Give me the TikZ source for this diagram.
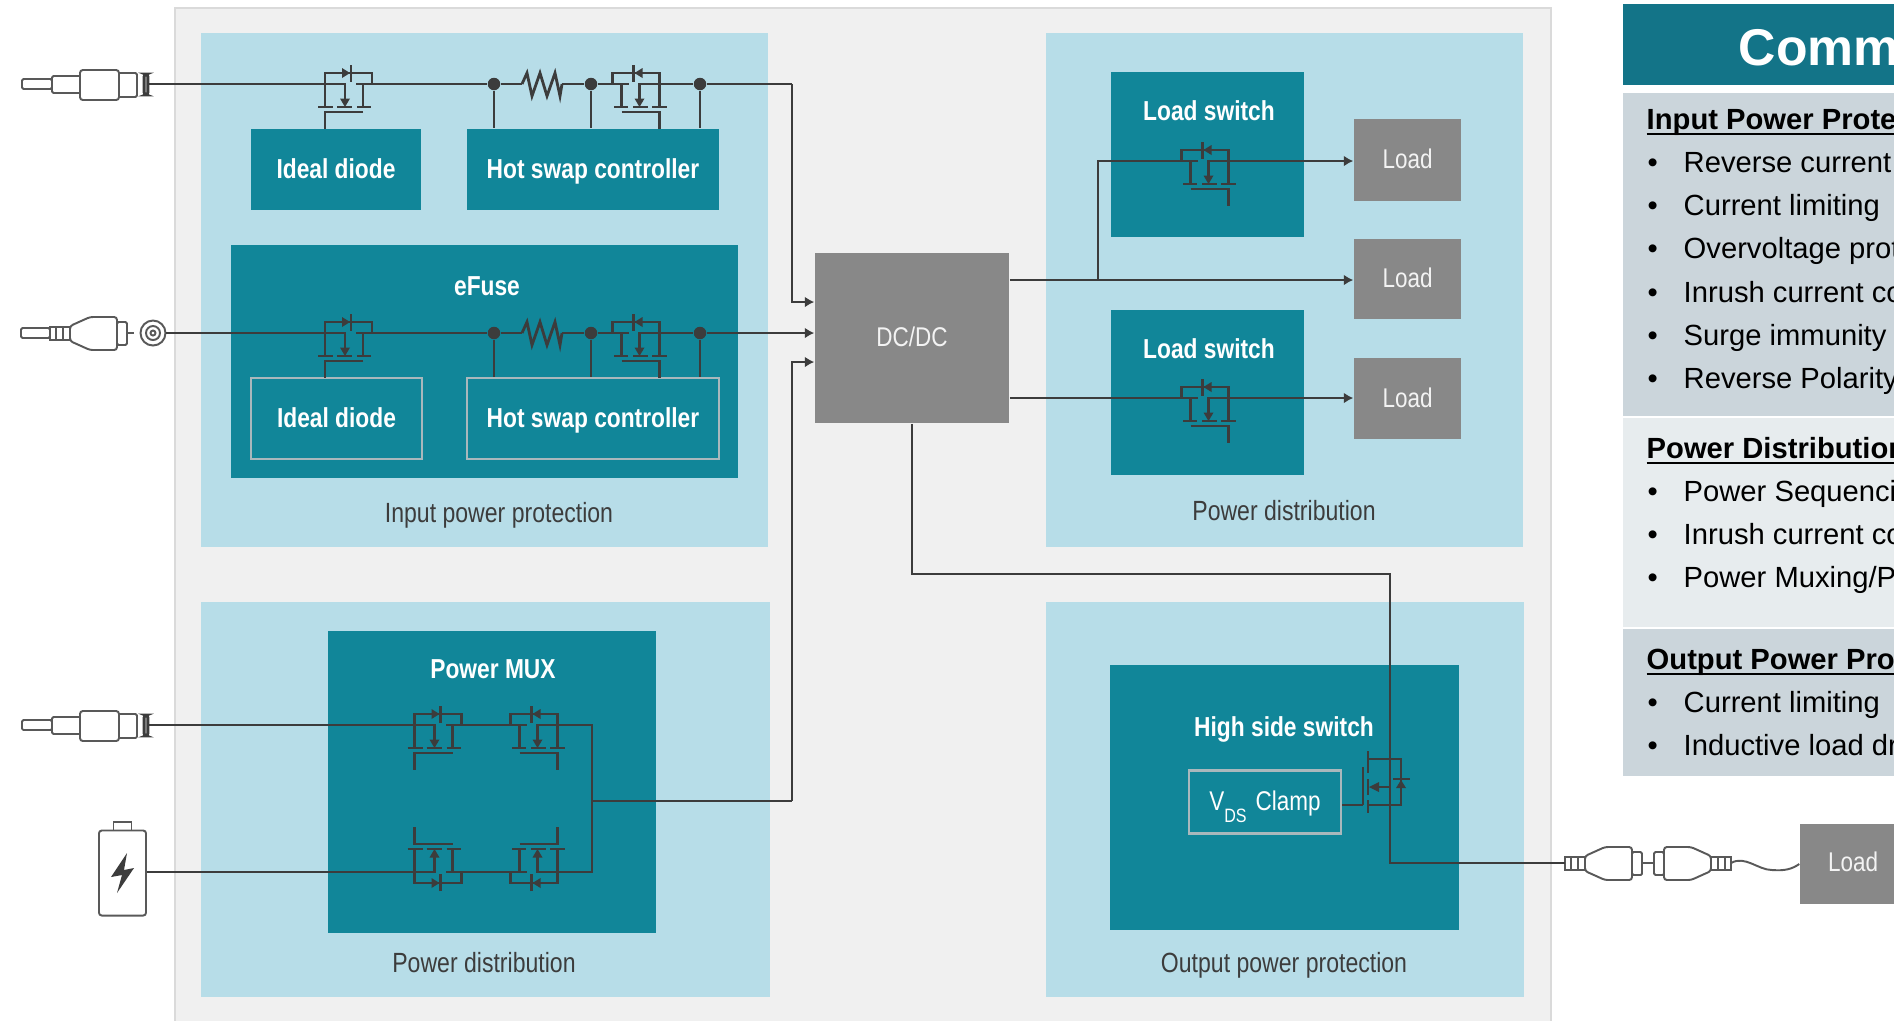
\documentclass[tikz,border=0pt]{standalone}
\usepackage{fontspec}
\usepackage{xcolor}
\usetikzlibrary{arrows.meta}
\setmainfont{Liberation Sans}
\newfontfamily\narrowfont[FakeStretch=.83]{Liberation Sans}
\definecolor{panelgray}{HTML}{F0F0F0}
\definecolor{panelline}{HTML}{DADADA}
\definecolor{lightblue}{HTML}{B7DDE8}
\definecolor{tealbox}{HTML}{118699}
\definecolor{tealedge}{HTML}{A9B8BC}
\definecolor{graybox}{HTML}{888888}
\definecolor{wirecol}{HTML}{3C3C3C}
\definecolor{headteal}{HTML}{137488}
\definecolor{rowdark}{HTML}{CBD5DB}
\definecolor{rowlight}{HTML}{E7ECEE}
\newcommand{\headul}[1]{\setbox0\hbox{#1}\rlap{\rule[-1.8pt]{\wd0}{.7pt}}#1}
\tikzset{
    wire/.style={draw=wirecol,line width=.8pt},
    wirearrow/.style={wire,-{Latex[length=2.7pt,width=3.1pt]}},
    plugline/.style={draw=wirecol!85,line width=.55pt},
    lightpanel/.style={fill=lightblue,draw=none,inner sep=0pt},
    teal/.style={fill=tealbox,draw=none,inner sep=0pt,text=white,text height=6.1pt,text depth=1.2pt,font=\narrowfont\fontsize{7.8}{9}\selectfont\bfseries},
    tealframe/.style={teal,draw=tealedge,line width=.6pt},
    load/.style={fill=graybox,draw=none,inner sep=0pt,text=white!90!graybox,text height=6.1pt,text depth=1.2pt,font=\narrowfont\fontsize{7.7}{9}\selectfont},
    whitelabel/.style={inner sep=0pt,text=white,text height=6.1pt,text depth=1.2pt,font=\narrowfont\fontsize{7.8}{9}\selectfont\bfseries},
    darklabel/.style={inner sep=0pt,text=wirecol,text height=6.1pt,text depth=1.2pt,font=\narrowfont\fontsize{7.9}{9}\selectfont},
    dot/.style={circle,fill=wirecol,draw=none,inner sep=0pt,minimum size=.125cm},
    rowhead/.style={anchor=base west,inner sep=0pt,font=\fontsize{8.3}{10}\selectfont\bfseries},
    rowitem/.style={anchor=base west,inner sep=0pt,font=\fontsize{8.3}{10}\selectfont},
    fet/.pic={
        \coordinate (-a) at (-23.5,0);
        \coordinate (-b) at (23.5,0);
        \draw[wire] (-23.5,23) -- (-23.5,-11) -- (23.5,-11) -- (23.5,0) -- (7.5,0);
        \draw[wire] (-23.5,0) -- (-3.5,0) -- (-3.5,16);
        \draw[wire] (14.5,0) -- (14.5,23);
        \draw[wire] (-30.5,23) -- (-15.5,23);
        \draw[wire] (-11.5,23) -- (3.5,23);
        \draw[wire] (8.5,23) -- (22.5,23);
        \draw[wire] (14.5,28) -- (-23.5,28) -- (-23.5,45);
        \fill[wirecol] (-8.5,14.5) -- (1.5,14.5) -- (-3.5,23) -- cycle;
        \fill[wirecol] (-6.5,-16) -- (1.5,-11) -- (-6.5,-6) -- cycle;
        \draw[wire] (2.5,-19) -- (2.5,-2);
    },
    resistor/.pic={
        \coordinate (-a) at (0,0);
        \coordinate (-b) at (40,0);
        \draw[wire] (0,0) -- (5,-11) -- (10,12) -- (18,-11) -- (25,12) -- (33,-11) -- (38,12) -- (40,0);
    },
    plugjack/.pic={
        \coordinate (-end) at (149,0);
        \draw[plugline,fill=white,rounded corners=.4pt] (22,-5) rectangle (52,5);
        \draw[plugline,fill=white,rounded corners=.4pt] (52,-8) rectangle (82,9);
        \draw[plugline,fill=white,rounded corners=.4pt] (117,-11) rectangle (137,13);
        \draw[plugline,fill=white,rounded corners=.8pt] (80,-14) rectangle (119,16);
        \draw[draw=wirecol,line width=.8pt,fill=wirecol!50,rounded corners=.8pt] (144,-10) rectangle (148,11);
    },
    plugbarrel/.pic={
        \coordinate (-end) at (84,0);
        \draw[plugline,fill=white] (0,-6) rectangle (20,7);
        \draw[plugline] (6,-6) -- (6,7) (13,-7) -- (13,8);
        \draw[plugline,fill=white,rounded corners=.4pt] (67,-11) rectangle (77,12);
        \draw[plugline,fill=white,rounded corners=.8pt] (20,-7) -- (40,-16) -- (67,-16) -- (67,17) -- (40,17) -- (20,8) -- cycle;
        \draw[plugline] (77,0) -- (84,0);
    },
}
\begin{document}
\begin{tikzpicture}[x=.01cm,y=-.01cm]
    \path[use as bounding box] (0,0) rectangle (1894,1020);
    \clip (0,0) rectangle (1894,1020);
    % panels
    \draw[fill=panelgray,draw=panelline,line width=.4pt] (175,8) rectangle (1551,1040);
    \node[lightpanel,minimum width=5.67cm,minimum height=5.14cm] (inpanel) at (484.5,290) {};
    \node[lightpanel,minimum width=4.77cm,minimum height=5.14cm] (distpanel) at (1284.5,290) {};
    \node[lightpanel,minimum width=5.69cm,minimum height=3.95cm] (muxpanel) at (485.5,799.5) {};
    \node[lightpanel,minimum width=4.78cm,minimum height=3.95cm] (outpanel) at (1285,799.5) {};
    % boxes
    \node[teal,minimum width=1.70cm,minimum height=.81cm] (idealA) at (336,169.5) {Ideal diode};
    \node[teal,minimum width=2.52cm,minimum height=.81cm] (hotA) at (593,169.5) {Hot swap controller};
    \node[teal,minimum width=5.07cm,minimum height=2.33cm] (efuse) at (484.5,361.5) {};
    \node[tealframe,minimum width=1.71cm,minimum height=.81cm] (idealB) at (336.5,418.5) {Ideal diode};
    \node[tealframe,minimum width=2.52cm,minimum height=.81cm] (hotB) at (593,418.5) {Hot swap controller};
    \node[teal,minimum width=1.93cm,minimum height=1.65cm] (switchA) at (1207.5,154.5) {};
    \node[teal,minimum width=1.93cm,minimum height=1.65cm] (switchB) at (1207.5,392.5) {};
    \node[teal,minimum width=3.28cm,minimum height=3.01cm] (mux) at (492,782) {};
    \node[teal,minimum width=3.49cm,minimum height=2.64cm] (hss) at (1284.5,797.5) {};
    \node[tealframe,font=\narrowfont\fontsize{7.7}{9}\selectfont,minimum width=1.52cm,minimum height=.63cm] (clamp) at (1265,802) {V\raisebox{-3.5pt}{\fontsize{5.5}{7}\selectfont DS}\,\,Clamp};
    \node[load,minimum width=1.94cm,minimum height=1.70cm] (dcdc) at (912,338) {DC/DC};
    \node[load,minimum width=1.07cm,minimum height=.82cm] (loadA) at (1407.5,160) {Load};
    \node[load,minimum width=1.07cm,minimum height=.80cm] (loadB) at (1407.5,279) {Load};
    \node[load,minimum width=1.07cm,minimum height=.81cm] (loadC) at (1407.5,398.5) {Load};
    \node[fill=graybox,inner sep=0pt,minimum width=1.20cm,minimum height=.80cm] (loadD) at (1860,864) {};
    \node[inner sep=0pt,text=white!90!graybox,text height=6.1pt,text depth=1.2pt,font=\narrowfont\fontsize{7.7}{9}\selectfont] (loadDtext) at (1853,863) {Load};
    % labels
    \node[whitelabel] (efuselabel) at (487,287) {eFuse};
    \node[whitelabel] (switchlabelA) at (1209,112) {Load switch};
    \node[whitelabel] (switchlabelB) at (1209,350) {Load switch};
    \node[whitelabel] (muxlabel) at (493,670) {Power MUX};
    \node[whitelabel] (hsslabel) at (1284,728) {High side switch};
    \node[darklabel] (inlabel) at (499,514) {Input power protection};
    \node[darklabel] (distlabel) at (1284,512) {Power distribution};
    \node[darklabel] (muxpanellabel) at (484,964) {Power distribution};
    \node[darklabel] (outlabel) at (1284,964) {Output power protection};
    % plugs
    \pic (plugA) at (0,84) {plugjack};
    \pic (plugC) at (0,725) {plugjack};
    \draw[plugline,fill=white,rounded corners=.4pt] (21,328) rectangle (50,338);
    \pic (plugB) at (50,333) {plugbarrel};
    \node[circle,draw=wirecol!85,line width=.55pt,fill=white,inner sep=0pt,minimum size=.25cm] (target) at (153,333) {};
    \node[circle,draw=wirecol!85,line width=.55pt,fill=white,inner sep=0pt,minimum size=.14cm] (targetmid) at (153,333) {};
    \node[circle,draw=wirecol!85,line width=.55pt,fill=white,inner sep=0pt,minimum size=.05cm] (targetin) at (153,333) {};
    \pic (plugD) at (1565,863) {plugbarrel};
    \pic[xscale=-1] (plugE) at (1731,863) {plugbarrel};
    \coordinate (waveA) at (1731,863);
    \draw[plugline] (waveA) .. controls (1745,855) and (1758,870) .. (1772,870) .. controls (1785,871) and (1792,869) .. (loadD.west);
    % battery
    \node[draw=wirecol!85,line width=.55pt,fill=white,inner sep=0pt,minimum width=.18cm,minimum height=.1cm] (battcap) at (122.5,827) {};
    \node[draw=wirecol!85,line width=.55pt,fill=white,rounded corners=.8pt,inner sep=0pt,minimum width=.47cm,minimum height=.85cm] (batt) at (122.5,873) {};
    \fill[wirecol] (127,853) -- (111,877) -- (122,875) -- (117,893) -- (134,868) -- (124,870) -- cycle;
    % mosfets
    \pic (fetA) at (348.5,84) {fet};
    \pic[xscale=-1] (fetB) at (636,84) {fet};
    \pic (fetC) at (348.5,333) {fet};
    \pic[xscale=-1] (fetD) at (636,333) {fet};
    \pic[xscale=-1] (fetE) at (1205,161) {fet};
    \pic[xscale=-1] (fetF) at (1205,398) {fet};
    \pic (fetG) at (438,725) {fet};
    \pic[xscale=-1] (fetH) at (534,725) {fet};
    \pic[yscale=-1] (fetI) at (438,872) {fet};
    \pic[xscale=-1,yscale=-1] (fetJ) at (534,872) {fet};
    \pic (resA) at (522,84) {resistor};
    \pic (resB) at (522,333) {resistor};
    % first row
    \node[dot] (dotA) at (494,84) {};
    \node[dot] (dotB) at (591,84) {};
    \node[dot] (dotC) at (700,84) {};
    \coordinate (busA) at (792,84);
    \coordinate (inA) at (dcdc.west |- 0,302);
    \draw[wire] (plugA-end) -- (fetA-a);
    \draw[wire] (fetA-b) -- (dotA) -- (resA-a);
    \draw[wire] (resA-b) -- (dotB) -- (fetB-b);
    \draw[wire] (fetB-a) -- (dotC) -- (busA);
    \draw[wirearrow] (busA) |- (inA);
    \draw[wire] (dotA) -- (dotA |- hotA.north);
    \draw[wire] (dotB) -- (dotB |- hotA.north);
    \draw[wire] (dotC) -- (dotC |- hotA.north);
    % second row
    \node[dot] (dotD) at (494,333) {};
    \node[dot] (dotE) at (591,333) {};
    \node[dot] (dotF) at (700,333) {};
    \coordinate (inB) at (dcdc.west |- 0,333);
    \draw[wire] (target.east) -- (fetC-a);
    \draw[wire] (fetC-b) -- (dotD) -- (resB-a);
    \draw[wire] (resB-b) -- (dotE) -- (fetD-b);
    \draw[wire] (fetD-a) -- (dotF);
    \draw[wirearrow] (dotF) -- (inB);
    \draw[wire] (dotD) -- (dotD |- hotB.north);
    \draw[wire] (dotE) -- (dotE |- hotB.north);
    \draw[wire] (dotF) -- (dotF |- hotB.north);
    % mux
    \coordinate (muxtop) at (592,725);
    \coordinate (muxbot) at (592,872);
    \coordinate (muxout) at (592,801);
    \coordinate (busB) at (792,801);
    \coordinate (inC) at (dcdc.west |- 0,362);
    \draw[wire] (plugC-end) -- (fetG-a);
    \draw[wire] (fetG-b) -- (fetH-b);
    \draw[wire] (fetH-a) -- (muxtop) -- (muxbot) -- (fetJ-a);
    \draw[wire] (batt.east |- fetI-a) -- (fetI-a);
    \draw[wire] (fetI-b) -- (fetJ-b);
    \draw[wire] (muxout) -- (busB);
    \draw[wirearrow] (busB) |- (inC);
    % loads
    \coordinate (outA) at (1098,280);
    \coordinate (outB) at (1098,161);
    \coordinate (outC) at (dcdc.east |- 0,280);
    \coordinate (outD) at (dcdc.east |- 0,398);
    \draw[wirearrow] (outC) -- (outC -| loadB.west);
    \draw[wire] (outA) -- (outB) -- (fetE-b);
    \draw[wirearrow] (fetE-a) -- (outB -| loadA.west);
    \draw[wire] (outD) -- (fetF-b);
    \draw[wirearrow] (fetF-a) -- (outD -| loadC.west);
    % high side switch
    \coordinate (hsA) at (1390,574);
    \coordinate (hsB) at (1390,759);
    \coordinate (hsC) at (1390,805);
    \coordinate (hsD) at (1565,863);
    \coordinate (hsE) at (1368,759);
    \coordinate (hsF) at (1368,805);
    \coordinate (hsG) at (1401,759);
    \coordinate (hsH) at (1401,805);
    \coordinate (hsI) at (1363,805);
    \draw[wire] (dcdc.south) |- (hsA) -- (hsA |- hsD) -- (hsD);
    \draw[wire] (hsE) -- (hsG) -- (hsH) -- (hsF);
    \draw[wire] (clamp.east |- hsI) -- (hsI);
    \draw[wire] (1363,767) -- (hsI);
    \draw[wire] (1368,751) -- (1368,773) (1368,779) -- (1368,795) (1368,800) -- (1368,813);
    \draw[wire] (hsC |- 0,787) -- (1376,787);
    \fill[wirecol] (1369,787) -- (1379,782) -- (1379,792) -- cycle;
    \fill[wirecol] (1401,780) -- (1406,788) -- (1396,788) -- cycle;
    \draw[wire] (1393,779) -- (1410,779);
    % table
    \node[fill=headteal,inner sep=0pt,minimum width=2.77cm,minimum height=.81cm] (tabhead) at (1761.5,44.5) {};
    \node[fill=rowdark,inner sep=0pt,minimum width=2.77cm,minimum height=3.23cm] (rowA) at (1761.5,254.5) {};
    \node[fill=rowlight,inner sep=0pt,minimum width=2.77cm,minimum height=2.09cm] (rowB) at (1761.5,522.5) {};
    \node[fill=rowdark,inner sep=0pt,minimum width=2.77cm,minimum height=1.47cm] (rowC) at (1761.5,702.5) {};
    \node[anchor=base west,inner sep=0pt,text=white,font=\fontsize{14.7}{16}\selectfont\bfseries] (tabtitle) at (1738,65) {Comm};
    \node[rowhead] (headA) at (1646,129) {\headul{Input Power Prote}};
    \node[rowhead] (headB) at (1646,458) {\headul{Power Distribution}};
    \node[rowhead] (headC) at (1646,669) {\headul{Output Power Pro}};
    \foreach \ty/\txt [count=\i] in {172/Reverse current,215/Current limiting,258/{Overvoltage prot},302/{Inrush current co},345/Surge immunity,388/Reverse Polarity,501/{Power Sequenci},544/{Inrush current co},587/{Power Muxing/P},712/Current limiting,755/{Inductive load dr}}
    {
        \node[rowitem] (bullet\i) at (1647,\ty) {•};
        \node[rowitem] (item\i) at (1683,\ty) {\txt};
    }
\end{tikzpicture}
\end{document}
